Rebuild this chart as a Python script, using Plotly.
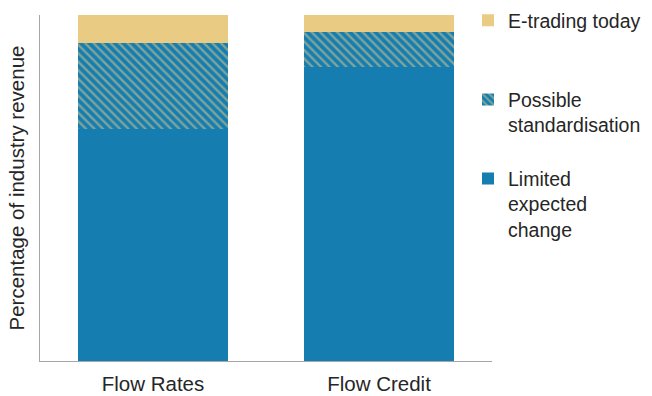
import plotly.graph_objects as go

# Revenue split by segment (percent of industry revenue)
categories = ["Flow Rates", "Flow Credit"]
limited_change = [67, 85]
possible_standardisation = [25, 10]
etrading_today = [8, 5]

series_names = [
    "Limited<br>expected<br>change",
    "Possible<br>standardisation<br> ",
    "E-trading today<br> <br> ",
]

BLUE = "#157DB0"
TAN = "#E9CB83"
TEXT = "#262626"
AXIS = "#A6A6A6"
FONT = "Liberation Sans, Arial, sans-serif"

fig = go.Figure()
fig.add_bar(
    x=categories, y=limited_change, name=series_names[0],
    marker=dict(color=BLUE, line=dict(width=0)),
)
fig.add_bar(
    x=categories, y=possible_standardisation, name=series_names[1],
    marker=dict(
        color=BLUE, line=dict(width=0),
        pattern=dict(shape="\\", fgcolor=TAN, bgcolor=BLUE, size=6, solidity=0.4),
    ),
)
fig.add_bar(
    x=categories, y=etrading_today, name=series_names[2],
    marker=dict(color=TAN, line=dict(width=0)),
)

fig.update_layout(
    width=652, height=396,
    margin=dict(l=40, r=160, t=15, b=35, autoexpand=False),
    barmode="stack", bargap=0.336,
    paper_bgcolor="white", plot_bgcolor="white",
    font=dict(family=FONT, size=20, color=TEXT),
    legend=dict(
        x=0.9469, xanchor="left", y=1.04, yanchor="top",
        font=dict(family=FONT, size=19.5, color=TEXT),
        valign="top", tracegroupgap=0, bgcolor="rgba(0,0,0,0)",
        maxheight=390,
    ),
    xaxis=dict(
        showline=True, linecolor=AXIS, linewidth=1, ticks="",
        showgrid=False, ticklabelstandoff=4,
        tickfont=dict(family=FONT, size=20.5, color=TEXT),
    ),
    yaxis=dict(
        range=[0, 100], showline=True, linecolor=AXIS, linewidth=1,
        showticklabels=False, ticks="", showgrid=False, zeroline=False,
        title=dict(text="Percentage of industry revenue", standoff=8,
                   font=dict(family=FONT, size=20.5, color=TEXT)),
    ),
)

fig.write_html("out.html")
